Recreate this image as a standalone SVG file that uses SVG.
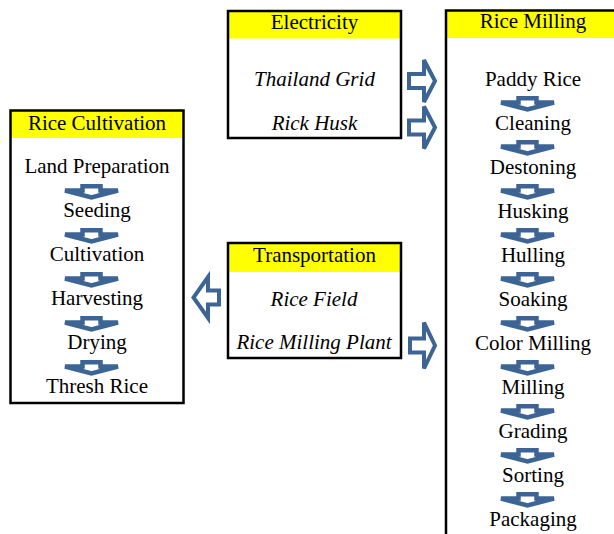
<svg xmlns="http://www.w3.org/2000/svg" xmlns:xlink="http://www.w3.org/1999/xlink" width="614" height="534" viewBox="0 0 614 534">
  <style>
    text { font-family: "Liberation Serif", "Times New Roman", serif; font-size: 21px; fill: #000; text-anchor: middle; }
    .it { font-style: italic; }
    .frame { fill: none; stroke: #000; stroke-width: 2.5; }
    .body { fill: #fff; }
    .head { fill: #ffff00; }
    .blk { fill: #fff; stroke: #3c6595; stroke-width: 4; stroke-linejoin: miter; }
    .dn { fill: #fff; stroke: #3c6595; stroke-width: 4.5; }
  </style>
  <defs>
    <!-- small downward block arrow, anchored at top centre -->
    <path id="down" class="dn" d="M-9,2.25 H9 V6.5 H26.5 L0,13.5 L-26.5,6.5 H-9 Z"/>
  </defs>
  <rect width="614" height="534" fill="#fff"/>

  <!-- Rice Cultivation -->
  <g id="rice-cultivation">
    <rect class="body" x="10.5" y="110.5" width="173" height="292.5"/>
    <rect class="head" x="11" y="111" width="172" height="27"/>
    <rect class="frame" x="10.5" y="110.5" width="173" height="292.5"/>
    <text x="97" y="130">Rice Cultivation</text>
    <text x="97" y="173">Land Preparation</text>
    <text x="97" y="217">Seeding</text>
    <text x="97" y="261">Cultivation</text>
    <text x="97" y="305">Harvesting</text>
    <text x="97" y="349">Drying</text>
    <text x="97" y="393">Thresh Rice</text>
    <use xlink:href="#down" x="91.5" y="184"/>
    <use xlink:href="#down" x="91.5" y="228"/>
    <use xlink:href="#down" x="91.5" y="272"/>
    <use xlink:href="#down" x="91.5" y="316"/>
    <use xlink:href="#down" x="91.5" y="360"/>
  </g>

  <!-- Electricity -->
  <g id="electricity">
    <rect class="body" x="228" y="11" width="173" height="127"/>
    <rect class="head" x="228.5" y="11.5" width="172" height="27"/>
    <rect class="frame" x="228" y="11" width="173" height="127"/>
    <text x="314.5" y="29">Electricity</text>
    <text class="it" x="314.5" y="86">Thailand Grid</text>
    <text class="it" x="314.5" y="130">Rick Husk</text>
  </g>

  <!-- Transportation -->
  <g id="transportation">
    <rect class="body" x="228" y="243" width="173" height="115"/>
    <rect class="head" x="228.5" y="243.5" width="172" height="28.5"/>
    <rect class="frame" x="228" y="243" width="173" height="115"/>
    <text x="314.5" y="262">Transportation</text>
    <text class="it" x="314" y="306">Rice Field</text>
    <text class="it" x="314" y="349">Rice Milling Plant</text>
  </g>

  <!-- Rice Milling (runs past the right and bottom edges) -->
  <g id="rice-milling">
    <rect class="body" x="446" y="10.5" width="200" height="540"/>
    <rect class="head" x="446.5" y="11" width="199" height="27"/>
    <rect class="frame" x="446" y="10.5" width="200" height="540"/>
    <text x="533" y="28">Rice Milling</text>
    <text x="533" y="86">Paddy Rice</text>
    <text x="533" y="130">Cleaning</text>
    <text x="533" y="174">Destoning</text>
    <text x="533" y="218">Husking</text>
    <text x="533" y="262">Hulling</text>
    <text x="533" y="306">Soaking</text>
    <text x="533" y="350">Color Milling</text>
    <text x="533" y="394">Milling</text>
    <text x="533" y="438">Grading</text>
    <text x="533" y="482">Sorting</text>
    <text x="533" y="526">Packaging</text>
    <use xlink:href="#down" x="527.5" y="96"/>
    <use xlink:href="#down" x="527.5" y="140"/>
    <use xlink:href="#down" x="527.5" y="184"/>
    <use xlink:href="#down" x="527.5" y="228"/>
    <use xlink:href="#down" x="527.5" y="272"/>
    <use xlink:href="#down" x="527.5" y="316"/>
    <use xlink:href="#down" x="527.5" y="360"/>
    <use xlink:href="#down" x="527.5" y="404"/>
    <use xlink:href="#down" x="527.5" y="448"/>
    <use xlink:href="#down" x="527.5" y="492"/>
  </g>

  <!-- connectors: block arrows between the boxes -->
  <g id="connectors">
    <path class="blk" d="M409,74 H424 V60 L435,81 L424,102 V88 H409 Z"/>
    <path class="blk" d="M409,120.5 H424 V106.5 L435,127.5 L424,148.5 V134.5 H409 Z"/>
    <path class="blk" d="M219,290.5 H208 V277 L193.5,297.5 L208,318 V304.5 H219 Z"/>
    <path class="blk" d="M410,338.5 H424 V322.5 L435,345.5 L424,368.5 V352.5 H410 Z"/>
  </g>
</svg>
